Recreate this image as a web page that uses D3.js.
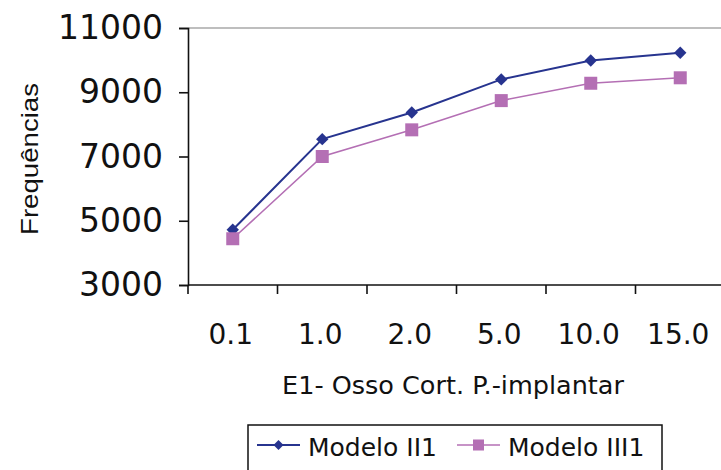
<!DOCTYPE html>
<html>
<head>
<meta charset="utf-8">
<script src="https://cdn.jsdelivr.net/npm/d3@7/dist/d3.min.js"></script>
<style>
  html, body { margin: 0; padding: 0; background: #fff; }
  svg { display: block; }
  text { font-family: "DejaVu Sans", sans-serif; fill: #111; }
</style>
</head>
<body>
<svg id="chart" width="721" height="470"></svg>
<script>
// Stiffness of the peri-implant cortical bone (E1) vs. natural frequency
const categories = ["0.1", "1.0", "2.0", "5.0", "10.0", "15.0"];
const modeloII1 = [4720, 7540, 8370, 9400, 9990, 10230];
const modeloIII1 = [4440, 7000, 7830, 8740, 9280, 9450];
const yTicks = [3000, 5000, 7000, 9000, 11000];

const seriesList = [
  { name: "Modelo II1", values: modeloII1, color: "#27348f", symbol: "diamond", width: 2 },
  { name: "Modelo III1", values: modeloIII1, color: "#b46fb4", symbol: "square", width: 1.6 }
];

const svg = d3.select("#chart");
const plotLeft = 188, plotTop = 28, plotBottom = 285, step = 89.5;

const x = d3.scaleBand().domain(categories).range([plotLeft, plotLeft + step * categories.length]).padding(0);
const y = d3.scaleLinear().domain([3000, 11000]).range([plotBottom, plotTop]);
const cx = c => x(c) + x.bandwidth() / 2;

// top boundary line of the plot area
svg.append("line")
  .attr("x1", plotLeft).attr("x2", 721)
  .attr("y1", y(11000)).attr("y2", y(11000))
  .attr("stroke", "#a9a9a9").attr("stroke-width", 1.5);

// y axis
const yAxis = svg.append("g")
  .attr("transform", `translate(${plotLeft},0)`)
  .call(d3.axisLeft(y).tickValues(yTicks).tickSize(9).tickPadding(16).tickFormat(d3.format("d")));
yAxis.select(".domain").attr("stroke", "#111").attr("stroke-width", 1.6);
yAxis.selectAll(".tick line").attr("stroke", "#111").attr("stroke-width", 1.6);
yAxis.selectAll(".tick text")
  .style("font-family", "DejaVu Sans").style("font-size", "33px").attr("fill", "#111");

// x axis: line, boundary ticks, centered category labels
const xAxis = svg.append("g");
xAxis.append("line")
  .attr("x1", plotLeft).attr("x2", 721)
  .attr("y1", plotBottom).attr("y2", plotBottom)
  .attr("stroke", "#111").attr("stroke-width", 1.6);
xAxis.selectAll("line.tick").data(categories).join("line")
  .attr("class", "tick")
  .attr("x1", d => x(d)).attr("x2", d => x(d))
  .attr("y1", plotBottom).attr("y2", plotBottom + 9)
  .attr("stroke", "#111").attr("stroke-width", 1.6);
xAxis.selectAll("text").data(categories).join("text")
  .attr("x", d => cx(d) - 2)
  .attr("y", 344)
  .attr("text-anchor", "middle")
  .style("font-size", "28px")
  .text(d => d);

// axis titles
svg.append("text")
  .attr("x", 453).attr("y", 394)
  .attr("text-anchor", "middle")
  .style("font-size", "25.5px")
  .text("E1- Osso Cort. P.-implantar");

svg.append("text")
  .attr("transform", "translate(38,159) rotate(-90)")
  .attr("text-anchor", "middle")
  .style("font-family", "'Liberation Sans', Arial, sans-serif")
  .style("font-size", "24px")
  .attr("textLength", 152)
  .attr("lengthAdjust", "spacingAndGlyphs")
  .text("Frequências");

// series lines and markers
const line = d3.line().x((d, i) => cx(categories[i])).y(d => y(d));

function marker(sel, s, big) {
  if (s.symbol === "diamond") {
    const h = big ? 6.2 : 5;
    sel.append("path")
      .attr("d", `M0,${-h}L${h},0L0,${h}L${-h},0Z`)
      .attr("fill", s.color);
  } else {
    const h = big ? 6.5 : 5.5;
    sel.append("rect")
      .attr("x", -h).attr("y", -h).attr("width", 2 * h).attr("height", 2 * h)
      .attr("fill", s.color);
  }
}

seriesList.forEach(s => {
  svg.append("path")
    .datum(s.values)
    .attr("d", line)
    .attr("fill", "none")
    .attr("stroke", s.color)
    .attr("stroke-width", s.width);
  s.values.forEach((v, i) => {
    const g = svg.append("g").attr("transform", `translate(${cx(categories[i])},${y(v)})`);
    marker(g, s, true);
  });
});

// legend
const legend = svg.append("g");
legend.append("rect")
  .attr("x", 248).attr("y", 425).attr("width", 414).attr("height", 60)
  .attr("fill", "#fff").attr("stroke", "#111").attr("stroke-width", 1.5);
const legendX = [257, 457];
seriesList.forEach((s, i) => {
  const x0 = legendX[i];
  legend.append("line")
    .attr("x1", x0).attr("x2", x0 + 43)
    .attr("y1", 445).attr("y2", 445)
    .attr("stroke", s.color).attr("stroke-width", s.width);
  const g = legend.append("g").attr("transform", `translate(${x0 + 21.5},445)`);
  marker(g, s, false);
  legend.append("text")
    .attr("x", x0 + 51).attr("y", 456)
    .style("font-size", "25px")
    .text(s.name);
});
</script>
</body>
</html>
